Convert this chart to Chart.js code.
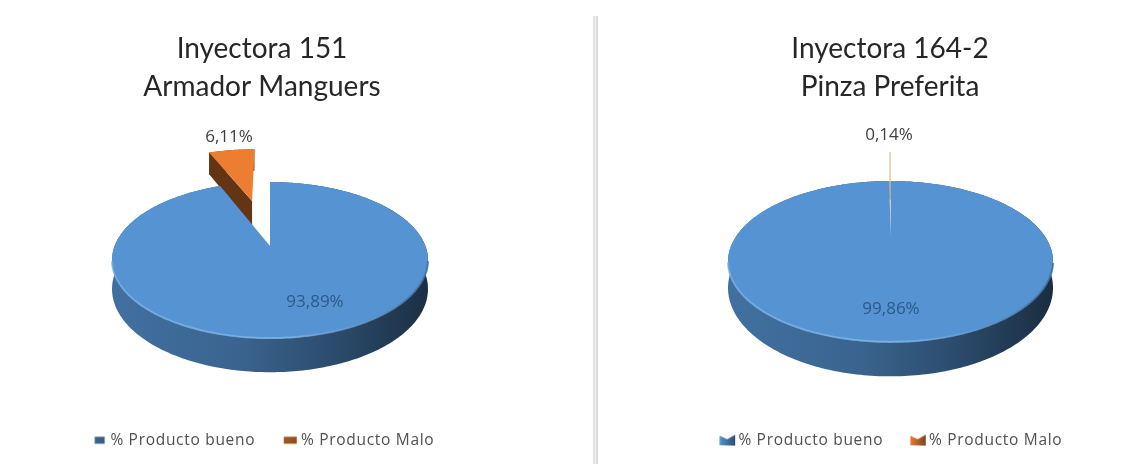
<!DOCTYPE html>
<html>
<head>
<meta charset="utf-8">
<style>
  html, body { margin: 0; padding: 0; background: #fff; width: 1122px; height: 464px; overflow: hidden; }
  .panel { position: absolute; top: 0; height: 464px; }
  #divider { position: absolute; left: 593px; top: 16px; width: 5px; height: 448px;
             background: linear-gradient(90deg, #e2e2e2 0 2px, #f4f4f4 2px 3px, #dcdcdc 3px 5px); }
</style>
<script src="https://cdn.jsdelivr.net/npm/chart.js@4"></script>
</head>
<body>
<div id="divider"></div>
<div class="panel" style="left:0;width:524px"><canvas id="left" width="524" height="464"></canvas></div>
<div class="panel" style="left:630px;width:520px"><canvas id="right" width="520" height="464"></canvas></div>
<script>
const categories = ['% Producto bueno', '% Producto Malo'];
const leftValues = [93.89, 6.11];
const rightValues = [99.86, 0.14];
const leftTitle = ['Inyectora 151', 'Armador Manguers'];
const rightTitle = ['Inyectora 164-2', 'Pinza Preferita'];
const sliceColors = ['#5593D2', '#ED7D31'];

const TITLE_FONT = 'Lato, "Open Sans", sans-serif';
const TEXT_FONT = '"Open Sans", Lato, sans-serif';

function shade(hex, f) {
  const n = parseInt(hex.slice(1), 16);
  const c = [n >> 16, (n >> 8) & 255, n & 255].map(v => Math.min(255, Math.round(v * f)));
  return `rgb(${c[0]},${c[1]},${c[2]})`;
}

// Legend keys: plain squares on the left chart, bow-tie shaped on the right one.
function legendKey(color, bow, wide) {
  const c = document.createElement('canvas');
  c.width = 17; c.height = 12;
  const g = c.getContext('2d');
  const grad = g.createLinearGradient(0, 0, 17, 0);
  grad.addColorStop(0, shade(color, bow ? 1.0 : 0.72));
  grad.addColorStop(1, shade(color, bow ? 0.5 : 0.6));
  g.fillStyle = grad;
  g.beginPath();
  if (bow) {
    g.moveTo(0.5, 1.5); g.lineTo(8, 5); g.lineTo(16, 0.5); g.lineTo(16, 11.5); g.lineTo(0.5, 11);
  } else if (wide) {
    g.rect(2, 2.5, 13, 7);
  } else {
    g.rect(3.5, 2.5, 10, 7);
  }
  g.closePath();
  g.fill();
  return c;
}

// Draws the pie's arc elements as a tilted disc with a rim, using each
// element's angles and explode offset under a perspective mapping.
const tiltedDisc = {
  id: 'tiltedDisc',
  beforeDatasetsDraw(chart, _args, o) {
    const { ctx } = chart;
    const arcs = chart.getDatasetMeta(0).data;
    const project = (u, v) => {
      const w = 1 - o.k * v;
      return { x: o.cx + o.A * u / w, y: o.apexY + o.B * v / w, d: o.depth / w };
    };
    const outline = (arc) => {
      const p = arc.getProps(['startAngle', 'endAngle', 'outerRadius']);
      const off = (arc.options.offset || 0) / p.outerRadius;
      const mid = (p.startAngle + p.endAngle) / 2;
      const ou = Math.cos(mid) * off, ov = Math.sin(mid) * off;
      const steps = Math.max(2, Math.ceil((p.endAngle - p.startAngle) * 60));
      const rim = [];
      for (let i = 0; i <= steps; i++) {
        const a = p.startAngle + (p.endAngle - p.startAngle) * i / steps;
        rim.push(project(ou + Math.cos(a), ov + Math.sin(a)));
      }
      return { rim, apex: project(ou, ov), exploded: off > 0, sweep: p.endAngle - p.startAngle };
    };
    const trace = (pts) => {
      ctx.beginPath();
      pts.forEach((q, i) => i ? ctx.lineTo(q.x, q.y) : ctx.moveTo(q.x, q.y));
      ctx.closePath();
    };
    const left = o.cx - o.A * 1.02, right = o.cx + o.A * 1.02;
    const shapes = arcs.map(outline);

    // side walls first, the top faces then cover whatever is hidden
    [...arcs.keys()].reverse().forEach((i) => {
      const { rim, apex, exploded } = shapes[i];
      const color = arcs[i].options.backgroundColor;
      const g = ctx.createLinearGradient(left, 0, right, 0);
      g.addColorStop(0, shade(color, 0.76));
      g.addColorStop(0.4, shade(color, 0.68));
      g.addColorStop(0.7, shade(color, 0.52));
      g.addColorStop(1, shade(color, 0.32));
      ctx.fillStyle = g;
      trace([...rim, ...[...rim].reverse().map(q => ({ x: q.x, y: q.y + q.d }))]);
      ctx.fill();
      if (exploded) {
        const a = apex, b = rim[0];
        ctx.fillStyle = shade(color, 0.42);
        trace([a, b, { x: b.x, y: b.y + b.d }, { x: a.x, y: a.y + a.d }]);
        ctx.fill();
      }
    });

    shapes.forEach(({ rim, apex, sweep }, i) => {
      // a hairline slice reads as a pale tint of its colour
      ctx.fillStyle = sweep < 0.05 ? '#eec7a6' : arcs[i].options.backgroundColor;
      trace([apex, ...rim]);
      ctx.fill();
    });

    // soft highlight where the front of the top face meets the rim
    const bevel = ctx.createLinearGradient(left, 0, right, 0);
    bevel.addColorStop(0, 'rgba(120,175,228,0.75)');
    bevel.addColorStop(0.55, 'rgba(125,180,232,0.85)');
    bevel.addColorStop(0.85, 'rgba(90,140,190,0.8)');
    bevel.addColorStop(1, 'rgba(60,105,150,0.8)');
    ctx.strokeStyle = bevel;
    ctx.lineWidth = 2;
    ctx.lineJoin = 'round';
    const front = shapes[0].rim.filter(q => q.y > o.apexY + o.centerDrop);
    ctx.beginPath();
    front.forEach((q, i) => i ? ctx.lineTo(q.x, q.y) : ctx.moveTo(q.x, q.y));
    ctx.stroke();

    // leader line and value labels
    if (o.leader) {
      ctx.strokeStyle = '#e3b68f';
      ctx.lineWidth = 1.2;
      ctx.beginPath();
      ctx.moveTo(o.leader[0], o.leader[1]);
      ctx.lineTo(o.leader[2], o.leader[3]);
      ctx.stroke();
    }
    ctx.font = `17px ${TEXT_FONT}`;
    ctx.textAlign = 'center';
    ctx.textBaseline = 'middle';
    chart.data.datasets[0].data.forEach((v, i) => {
      ctx.fillStyle = o.labelColors[i];
      ctx.fillText(v.toFixed(2).replace('.', ',') + '%', o.labelAt[i][0], o.labelAt[i][1]);
    });
    return false;
  }
};

function makeChart(id, title, values, offsets, disc, bow) {
  const chart = new Chart(document.getElementById(id), {
    type: 'pie',
    data: {
      labels: categories,
      datasets: [{ data: values, backgroundColor: sliceColors, borderWidth: 0, offset: offsets }]
    },
    plugins: [tiltedDisc],
    options: {
      responsive: false,
      animation: false,
      layout: { padding: { bottom: 6 } },
      plugins: {
        tooltip: { enabled: false },
        title: {
          display: true,
          text: title,
          color: '#262626',
          font: { family: TITLE_FONT, size: 28, weight: 'normal', lineHeight: 1.36 },
          padding: { top: 30, bottom: 10 }
        },
        legend: {
          position: 'bottom',
          labels: {
            color: '#505050',
            font: { family: TEXT_FONT, size: 15.5 },
            usePointStyle: true,
            pointStyleWidth: 6,
            padding: 32,
            generateLabels: () => categories.map((text, i) => ({
              text,
              fontColor: '#505050',
              pointStyle: legendKey(sliceColors[i], bow, i === 1),
              fillStyle: sliceColors[i],
              lineWidth: 0,
              index: i
            }))
          }
        },
        tiltedDisc: disc
      }
    }
  });
  // the legend text is tracked out and sits a little right of the title's centre line
  const legend = chart.legend;
  const fit = legend.fit.bind(legend), draw = legend.draw.bind(legend);
  legend.fit = () => { chart.ctx.letterSpacing = '0.7px'; fit(); chart.ctx.letterSpacing = '0px'; };
  legend.draw = () => {
    chart.ctx.save();
    chart.ctx.letterSpacing = '0.7px';
    chart.ctx.translate(disc.legendShift, 0);
    draw();
    chart.ctx.restore();
  };
  chart.update();
  return chart;
}

makeChart('left', leftTitle, leftValues, [0, 72], {
  cx: 270, apexY: 246, A: 155.4, B: 75.5, k: 0.18, depth: 28, centerDrop: 14, legendShift: 3.5,
  labelAt: [[315, 302], [229, 137]], labelColors: ['#2e5a88', '#404040']
}, false);

makeChart('right', rightTitle, rightValues, [0, 0], {
  cx: 260.5, apexY: 237, A: 154.8, B: 73, k: 0.304, depth: 24, centerDrop: 25, legendShift: 3.5,
  leader: [260, 152, 260, 182],
  labelAt: [[261, 309], [259, 135]], labelColors: ['#2e5a88', '#404040']
}, true);
</script>
</body>
</html>
